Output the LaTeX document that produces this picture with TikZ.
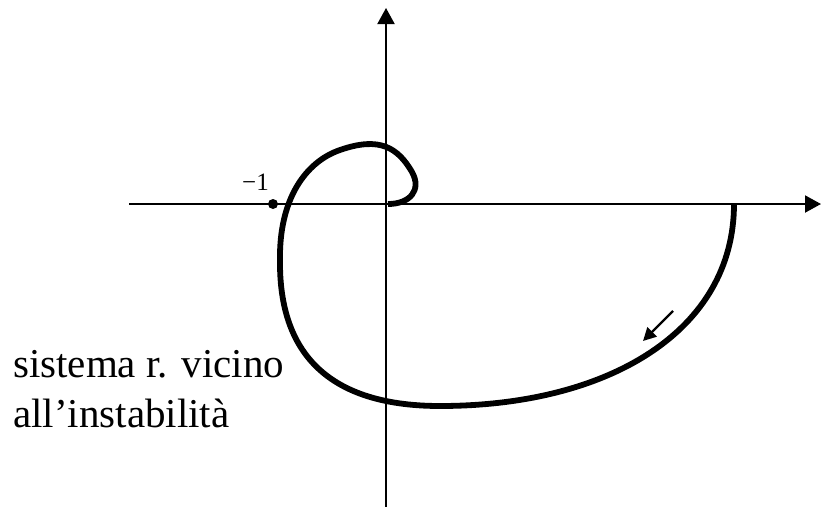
\documentclass[tikz,border=0pt]{standalone}
\usepackage{fontspec}
\setmainfont{Liberation Serif}
\usetikzlibrary{arrows.meta}
\tikzset{
  axisline/.style={line width=2pt, -{Triangle[length=16pt,width=17pt]}},
  curveline/.style={line width=5.8pt, line cap=butt, line join=round},
  dirarrow/.style={line width=2.4pt, -{Triangle[length=13pt,width=13pt]}},
  bigtext/.style={inner sep=0pt, anchor=base west, font=\fontsize{41}{50}\selectfont},
  smalltext/.style={inner sep=0pt, anchor=base east, font=\fontsize{25}{30}\selectfont},
}
\begin{document}
\begin{tikzpicture}[x=1pt,y=-1pt]
\useasboundingbox (0,0) rectangle (821,506);
% axes
\coordinate (xl) at (129,204);
\coordinate (xr) at (821,204);
\coordinate (yb) at (386,510);
\coordinate (yt) at (386,8);
\draw[axisline] (xl) -- (xr);
\draw[axisline] (yb) -- (yt);
% point -1
\node[circle, fill=black, inner sep=0pt, minimum size=10pt] (m1) at (273,204) {};
\node[smalltext] (m1lab) at (269,190) {−1};
% Nyquist curve
\coordinate (c0) at (734,204);
\coordinate (c1) at (440,406);
\coordinate (c2) at (280,260);
\coordinate (c3) at (340,150);
\coordinate (c4) at (412,172);
\coordinate (c5) at (388,204);
\draw[curveline] (c0) .. controls (734,330) and (610,406) .. (c1)
  .. controls (320,406) and (279,345) .. (c2)
  .. controls (279,200) and (305,162) .. (c3)
  .. controls (380,136) and (398,148) .. (c4)
  .. controls (422,190) and (410,204) .. (c5);
% direction arrow
\coordinate (da) at (673,311);
\coordinate (db) at (643,341);
\draw[dirarrow] (da) -- (db);
% label
\node[bigtext] (t1) at (13,377) {sistema r. vicino};
\node[bigtext] (t2) at (13,427) {all’instabilità};
\end{tikzpicture}
\end{document}
